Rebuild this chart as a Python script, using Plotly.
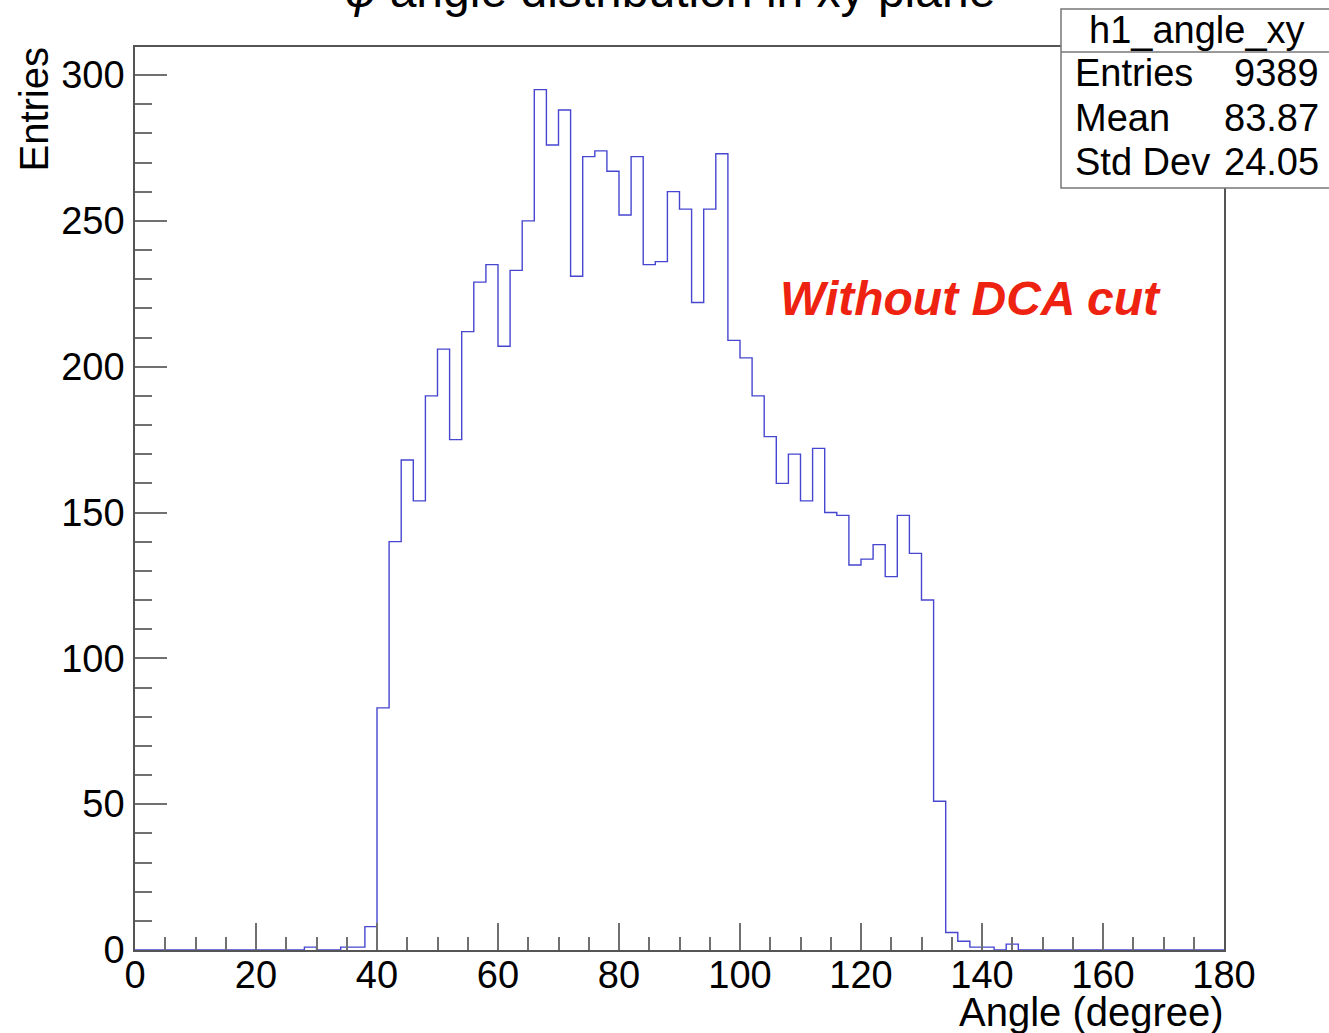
import plotly.graph_objects as go

# Histogram h1_angle_xy: 90 bins of 2 degrees over [0, 180)
bin_low = 0.0
bin_width = 2.0
counts = [
    0, 0, 0, 0, 0, 0, 0, 0, 0, 0,          # 0 - 20
    0, 0, 0, 0, 1, 0, 0, 1, 1, 8,          # 20 - 40
    83, 140, 168, 154, 190, 206, 175, 212, 229, 235,   # 40 - 60
    207, 233, 250, 295, 276, 288, 231, 272, 274, 267,  # 60 - 80
    252, 272, 235, 236, 260, 254, 222, 254, 273, 209,  # 80 - 100
    203, 190, 176, 160, 170, 154, 172, 150, 149, 132,  # 100 - 120
    134, 139, 128, 149, 136, 120, 51, 6, 3, 1,         # 120 - 140
    1, 0, 2, 0, 0, 0, 0, 0, 0, 0,                      # 140 - 160
    0, 0, 0, 0, 0, 0, 0, 0, 0, 0,                      # 160 - 180
]
x_ticks = [0, 20, 40, 60, 80, 100, 120, 140, 160, 180]
y_ticks = [0, 50, 100, 150, 200, 250, 300]

stats_name = "h1_angle_xy"
stats_rows = [("Entries", "9389"), ("Mean", "83.87"), ("Std Dev", "24.05")]

title_text = "<i>φ</i> angle distribution in xy plane"
x_title = "Angle (degree)"
y_title = "Entries"
note_text = "<b><i>Without DCA cut</i></b>"

edges = [bin_low + i * bin_width for i in range(len(counts) + 1)]
step_y = counts + [counts[-1]]

W, H = 1329, 1033
ML, MR, MT, MB = 135, 105, 47, 83
PW, PH = W - ML - MR, H - MT - MB


def px_x(px):
    return (px - ML) / PW


def px_y(py):
    return (H - MB - py) / PH


FONT = "Liberation Sans, Arial, Helvetica, sans-serif"
AXIS_COL = "#555555"
TICK_COL = "#707070"
LABEL_SIZE = 38
TITLE_SIZE = 40
STATS_SIZE = 38

fig = go.Figure()
fig.add_trace(go.Scatter(
    x=edges, y=step_y, mode="lines", line_shape="hv",
    line=dict(color="#4646d0", width=1.4),
    hoverinfo="skip", showlegend=False,
))

fig.update_layout(
    width=W, height=H,
    margin=dict(l=ML, r=MR, t=MT, b=MB, pad=0),
    paper_bgcolor="white", plot_bgcolor="white",
    font=dict(family=FONT, color="black"),
    showlegend=False,
)

fig.update_xaxes(
    range=[0, 180], tickvals=x_ticks, ticktext=[str(v) for v in x_ticks],
    ticks="inside", ticklen=27, tickwidth=1.5, tickcolor=TICK_COL,
    minor=dict(dtick=5, tick0=0, ticks="inside", ticklen=13, tickwidth=1.5,
               tickcolor=TICK_COL, showgrid=False),
    showline=True, linecolor=AXIS_COL, linewidth=1.5, mirror=True,
    showgrid=False, zeroline=False,
    tickfont=dict(size=LABEL_SIZE, family=FONT, color="black"),
    ticklabelstandoff=-9,
)
fig.update_yaxes(
    range=[0, 309.6], tickvals=y_ticks, ticktext=[str(v) for v in y_ticks],
    ticks="inside", ticklen=32, tickwidth=1.5, tickcolor=TICK_COL,
    minor=dict(dtick=10, tick0=0, ticks="inside", ticklen=17, tickwidth=1.5,
               tickcolor=TICK_COL, showgrid=False),
    showline=True, linecolor=AXIS_COL, linewidth=1.5, mirror=True,
    showgrid=False, zeroline=False,
    tickfont=dict(size=LABEL_SIZE, family=FONT, color="black"),
    ticklabelstandoff=1,
)

annotations = [
    dict(text=title_text, xref="paper", yref="paper", x=px_x(670), y=px_y(19),
         xanchor="center", yanchor="bottom", showarrow=False,
         font=dict(size=48, family=FONT, color="black")),
    dict(text=x_title, xref="paper", yref="paper", x=px_x(1226), y=px_y(1012),
         xanchor="right", yanchor="middle", showarrow=False,
         font=dict(size=TITLE_SIZE, family=FONT, color="black")),
    dict(text=y_title, xref="paper", yref="paper", x=px_x(33), y=px_y(45),
         xanchor="center", yanchor="top", textangle=-90, showarrow=False,
         font=dict(size=TITLE_SIZE, family=FONT, color="black")),
    dict(text=note_text, xref="paper", yref="paper", x=px_x(778), y=px_y(298),
         xanchor="left", yanchor="middle", showarrow=False,
         font=dict(size=48, family=FONT, color="#ee2211")),
]

# Statistics box
box_l, box_t, box_b, box_r = 1061, 9, 188, 1335
div_y = 52
shapes = [
    dict(type="rect", xref="paper", yref="paper",
         x0=px_x(box_l), x1=px_x(box_r), y0=px_y(box_b), y1=px_y(box_t),
         line=dict(color="#777777", width=1.5), fillcolor="white", layer="above"),
    dict(type="line", xref="paper", yref="paper",
         x0=px_x(box_l), x1=px_x(box_r), y0=px_y(div_y), y1=px_y(div_y),
         line=dict(color="#777777", width=1.5), layer="above"),
]
annotations.append(dict(
    text=stats_name, xref="paper", yref="paper", x=px_x(1197), y=px_y(30),
    xanchor="center", yanchor="middle", showarrow=False,
    font=dict(size=STATS_SIZE, family=FONT, color="black")))
row_y = [73, 118, 162]
for (label, value), ry in zip(stats_rows, row_y):
    annotations.append(dict(
        text=label, xref="paper", yref="paper", x=px_x(1073), y=px_y(ry),
        xanchor="left", yanchor="middle", showarrow=False,
        font=dict(size=STATS_SIZE, family=FONT, color="black")))
    annotations.append(dict(
        text=value, xref="paper", yref="paper", x=px_x(1321), y=px_y(ry),
        xanchor="right", yanchor="middle", showarrow=False,
        font=dict(size=STATS_SIZE, family=FONT, color="black")))

fig.update_layout(annotations=annotations, shapes=shapes)

fig.write_html("out.html")
